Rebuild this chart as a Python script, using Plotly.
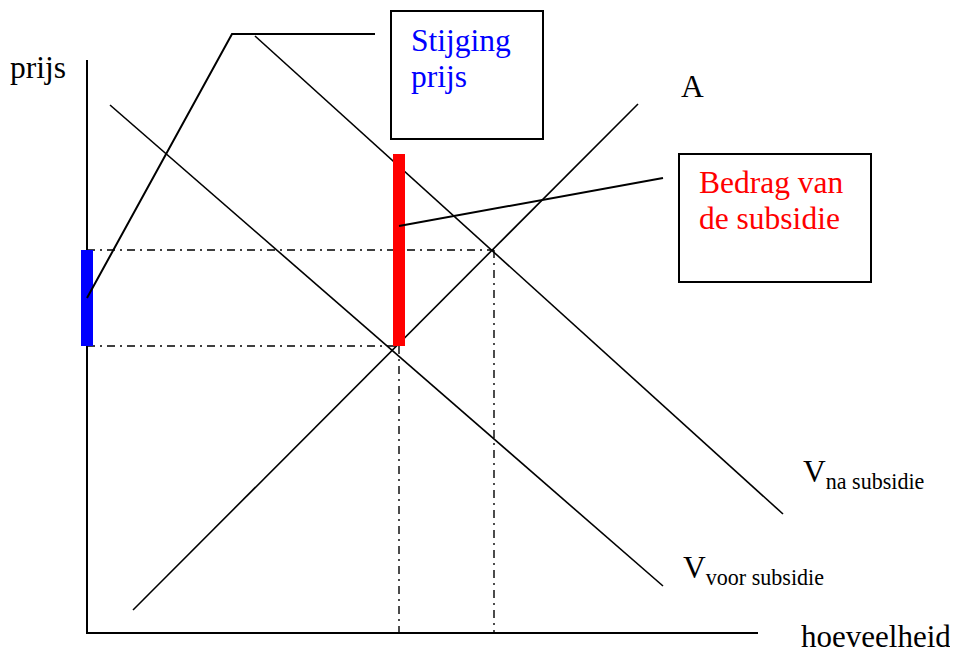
import plotly.graph_objects as go

# diagram units (x = hoeveelheid, y = prijs, y axis points down)
assen_q = [87, 87, 758]
assen_p = [60, 633, 633]

aanbod_q = [133, 638]
aanbod_p = [610, 104]

v_voor_q = [110, 663]
v_voor_p = [105, 586]

v_na_q = [255, 783]
v_na_p = [36, 514]

prijs_voor = 346
prijs_na = 250
hoeveelheid_voor = 399
hoeveelheid_na = 494
subsidie_top = 154

blauw_lijn_q = [87, 232, 375]
blauw_lijn_p = [298, 34, 34]
rood_lijn_q = [399, 663]
rood_lijn_p = [226, 178]

box_stijging = [391, 11, 543, 139]
box_bedrag = [679, 154, 871, 282]

FONT = "Liberation Serif"
FS = 31.5
dashdot = "8px,5px,2px,5px"
# page body has an 8px margin, compensate so diagram units = page pixels
OFF = 8

fig = go.Figure()

def lijn(q, p, color="black", width=1.6, dash=None):
    fig.add_trace(go.Scatter(x=q, y=p, mode="lines", hoverinfo="skip",
                             line=dict(color=color, width=width, dash=dash)))

# dash-dot hulplijnen
lijn([assen_q[0], hoeveelheid_na], [prijs_na, prijs_na], width=1.4, dash=dashdot)
lijn([assen_q[0], hoeveelheid_voor], [prijs_voor, prijs_voor], width=1.4, dash=dashdot)
lijn([hoeveelheid_voor, hoeveelheid_voor], [prijs_voor, assen_p[-1]], width=1.4, dash=dashdot)
lijn([hoeveelheid_na, hoeveelheid_na], [prijs_na, assen_p[-1]], width=1.4, dash=dashdot)

# assen
lijn(assen_q, assen_p, width=2)

# curves
lijn(aanbod_q, aanbod_p)
lijn(v_voor_q, v_voor_p)
lijn(v_na_q, v_na_p)

# balken
lijn([assen_q[0], assen_q[0]], [prijs_na, prijs_voor], color="#0000ff", width=12)
lijn([hoeveelheid_voor, hoeveelheid_voor], [subsidie_top, prijs_voor], color="#ff0000", width=12)

# verwijslijnen
lijn(blauw_lijn_q, blauw_lijn_p, width=2)
lijn(rood_lijn_q, rood_lijn_p, width=2)

for b in (box_stijging, box_bedrag):
    fig.add_shape(type="rect", x0=b[0], y0=b[1], x1=b[2], y1=b[3],
                  line=dict(color="black", width=2), fillcolor="rgba(0,0,0,0)")

def tekst(x, y, s, color="black", size=FS):
    fig.add_annotation(x=x, y=y, text=s, showarrow=False, xanchor="left", yanchor="middle",
                       font=dict(family=FONT, size=size, color=color))

tekst(8, 67, "prijs")
tekst(409, 40, "Stijging", color="#0000ff")
tekst(409, 76, "prijs", color="#0000ff")
tekst(679, 86, "A")
tekst(697, 182, "Bedrag van", color="#ff0000")
tekst(697, 218, "de subsidie", color="#ff0000")
tekst(801, 474, "V<sub>na subsidie</sub>")
tekst(681, 570, "V<sub>voor subsidie</sub>")
tekst(799, 636, "hoeveelheid", size=31)

fig.update_layout(
    width=958 - OFF, height=653 - OFF,
    margin=dict(l=0, r=0, t=0, b=0),
    paper_bgcolor="white", plot_bgcolor="white",
    showlegend=False,
    xaxis=dict(range=[OFF, 958], visible=False, fixedrange=True),
    yaxis=dict(range=[653, OFF], visible=False, fixedrange=True),
)

fig.write_html("out.html")
